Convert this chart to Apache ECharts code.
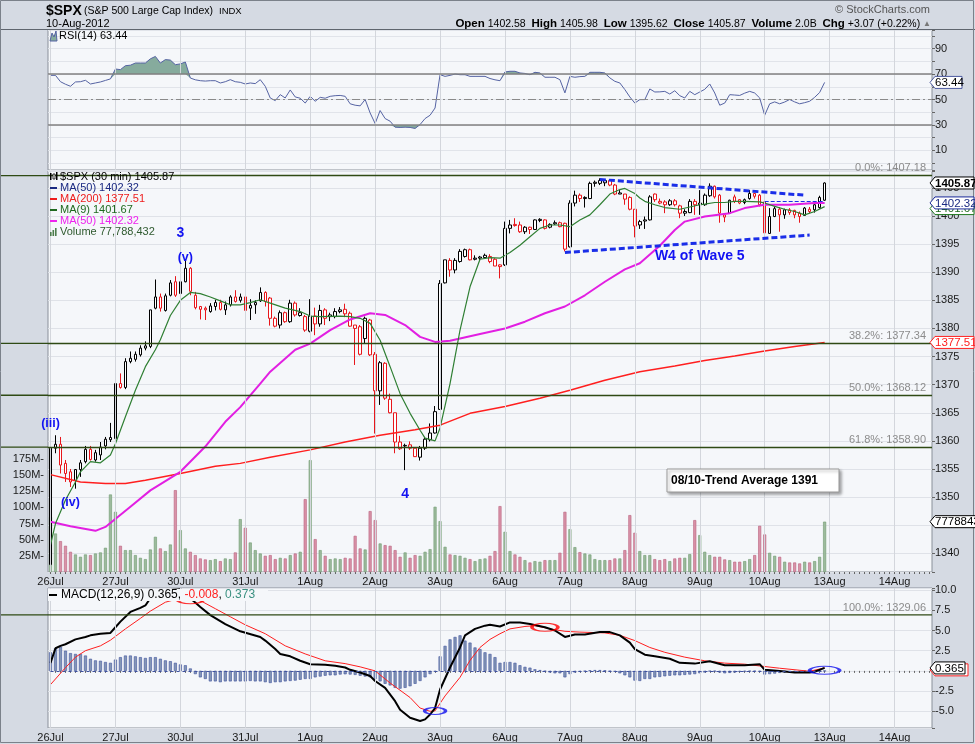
<!DOCTYPE html>
<html><head><meta charset="utf-8">
<script src="https://cdn.jsdelivr.net/npm/echarts@6/dist/echarts.min.js"></script>
<style>html,body{margin:0;padding:0;background:#d5dae3;}#c{width:975px;height:744px;}</style>
</head><body><div id="c"></div>
<script>
// ---------------- DATA ----------------
const days = ['26Jul','27Jul','30Jul','31Jul','1Aug','2Aug','3Aug','6Aug','7Aug','8Aug','9Aug','10Aug','13Aug','14Aug'];
const barTimes = ['10:00','10:30','11:00','11:30','12:00','12:30','13:00','13:30','14:00','14:30','15:00','15:30','16:00'];
const slotCount = 177;

// 30-minute candles: [open, high, low, close]
const candles = [
[1338.0,1359.5,1337.9,1358.7],[1358.7,1361.0,1357.8,1359.4],[1359.4,1360.7,1354.2,1355.7],[1356.0,1356.6,1352.7,1354.2],
[1354.5,1355.0,1351.8,1352.7],[1353.0,1355.0,1351.5,1354.9],[1354.9,1356.6,1353.6,1356.1],[1356.3,1359.1,1356.0,1358.5],
[1358.5,1359.1,1356.5,1356.7],[1356.6,1358.4,1356.3,1357.9],[1357.5,1359.8,1356.6,1358.9],[1359.1,1360.7,1358.5,1360.3],
[1360.2,1363.2,1359.8,1360.6],
[1360.4,1370.5,1360.0,1370.2],[1370.2,1372.0,1369.3,1369.5],[1369.5,1374.7,1369.2,1374.1],[1374.1,1375.9,1373.8,1374.7],
[1374.5,1375.9,1374.1,1375.4],[1375.3,1377.0,1375.0,1376.5],[1376.5,1377.7,1376.1,1376.9],[1376.8,1383.3,1376.5,1383.3],
[1383.6,1388.7,1383.4,1385.6],[1385.6,1386.2,1383.0,1383.6],[1383.2,1386.2,1383.0,1385.8],[1385.9,1388.6,1385.7,1388.1],
[1388.3,1389.3,1385.6,1385.9],
[1386.2,1388.6,1384.8,1388.3],[1388.3,1392.3,1388.2,1390.7],[1390.7,1390.9,1385.9,1386.6],[1385.9,1386.5,1383.4,1383.7],
[1383.9,1384.0,1381.6,1383.4],[1383.6,1383.9,1381.5,1383.3],[1383.0,1384.5,1382.8,1384.0],[1383.9,1385.1,1383.2,1384.6],
[1384.6,1385.1,1383.2,1383.4],[1383.3,1384.8,1382.4,1384.2],[1384.2,1385.9,1383.9,1385.6],[1385.6,1386.8,1384.6,1384.8],
[1385.0,1386.2,1384.6,1385.6],
[1385.6,1387.0,1383.0,1383.2],[1383.6,1385.2,1381.5,1384.1],[1384.2,1385.0,1382.6,1384.6],[1384.9,1387.3,1384.7,1386.4],
[1386.4,1386.6,1383.9,1384.8],[1385.4,1385.6,1380.5,1381.8],[1381.8,1382.1,1380.2,1380.4],[1380.6,1383.2,1380.0,1382.8],
[1382.8,1383.0,1381.0,1381.2],[1381.2,1385.1,1381.0,1384.5],[1384.5,1384.8,1382.1,1382.4],[1382.3,1383.6,1382.1,1382.8],
[1382.1,1382.4,1379.4,1379.7],
[1379.5,1385.2,1379.3,1382.2],[1382.2,1383.7,1378.8,1380.8],[1380.8,1384.2,1380.3,1383.2],[1383.3,1383.6,1380.6,1381.8],
[1382.1,1382.8,1381.3,1382.4],[1382.1,1383.6,1381.8,1383.0],[1383.0,1383.8,1382.7,1383.3],[1383.4,1384.4,1382.0,1382.6],
[1382.7,1383.0,1380.3,1380.4],[1380.6,1380.6,1373.5,1380.0],[1380.3,1380.6,1375.2,1375.4],[1378.2,1382.1,1377.3,1381.8],
[1381.5,1381.7,1375.1,1375.3],
[1375.4,1375.8,1361.3,1368.9],[1368.9,1374.2,1366.4,1373.9],[1373.8,1374.0,1367.3,1367.6],[1367.4,1368.4,1364.9,1365.0],
[1365.0,1365.0,1357.8,1359.8],[1359.8,1360.9,1358.4,1358.6],[1359.2,1359.5,1354.8,1359.1],[1359.3,1359.9,1358.4,1358.7],
[1358.7,1358.9,1357.2,1357.2],[1357.1,1359.1,1356.5,1358.7],[1358.7,1360.7,1358.4,1360.3],[1360.2,1363.1,1359.9,1361.4],
[1361.4,1366.2,1361.3,1365.2],
[1365.6,1388.6,1365.5,1388.0],[1388.1,1392.2,1388.0,1392.2],[1392.1,1392.5,1389.2,1390.4],[1390.4,1392.5,1389.8,1392.1],
[1391.9,1394.1,1391.7,1393.7],[1392.8,1394.2,1392.6,1394.0],[1394.0,1394.2,1392.1,1392.2],[1392.5,1393.0,1392.1,1392.3],
[1392.5,1392.9,1392.1,1392.7],[1392.6,1393.3,1392.4,1393.0],[1392.8,1393.2,1391.6,1391.9],[1392.3,1392.5,1391.1,1391.1],
[1391.3,1391.4,1388.9,1391.0],
[1391.3,1399.0,1391.1,1397.8],[1397.8,1399.3,1396.9,1398.4],[1398.5,1399.6,1398.1,1398.3],[1398.4,1399.0,1397.0,1397.2],
[1397.2,1398.2,1396.8,1398.0],[1398.0,1398.1,1396.8,1397.6],[1397.6,1399.4,1397.5,1399.3],[1399.2,1399.6,1398.9,1399.4],
[1399.3,1399.4,1397.6,1397.8],[1398.0,1398.7,1397.8,1398.5],[1398.8,1399.2,1398.4,1398.6],[1398.8,1399.0,1398.0,1398.1],
[1398.7,1398.8,1393.7,1394.1],
[1394.5,1402.8,1394.4,1402.3],[1402.3,1404.5,1401.7,1403.7],[1403.7,1404.0,1402.5,1403.1],[1403.3,1403.5,1401.5,1403.1],
[1403.1,1406.1,1403.0,1405.8],[1406.0,1406.3,1405.2,1405.8],[1405.8,1406.7,1405.5,1406.3],[1405.9,1406.5,1405.3,1406.3],
[1406.3,1406.5,1405.3,1405.5],[1405.5,1405.7,1403.7,1403.9],[1404.1,1404.6,1403.9,1403.9],[1403.9,1403.9,1402.0,1403.0],
[1403.3,1403.5,1401.0,1401.2],
[1401.2,1401.2,1396.2,1398.2],[1398.4,1399.3,1397.7,1399.0],[1399.1,1399.9,1397.7,1399.3],[1399.3,1403.7,1399.2,1403.4],
[1403.9,1404.0,1402.5,1402.9],[1402.6,1403.1,1402.1,1402.3],[1402.5,1402.8,1400.5,1402.0],[1402.0,1403.0,1401.8,1402.7],
[1402.7,1403.0,1401.7,1402.0],[1401.8,1402.0,1399.6,1400.5],[1400.8,1401.2,1400.0,1400.5],[1400.6,1403.0,1400.5,1402.6],
[1402.6,1403.0,1400.2,1402.0],
[1402.3,1404.6,1400.2,1402.0],[1402.0,1404.0,1401.8,1403.7],[1403.6,1405.8,1403.4,1405.3],[1405.3,1405.4,1403.1,1403.4],
[1403.7,1403.9,1398.8,1400.5],[1399.8,1400.5,1398.9,1400.2],[1400.5,1402.9,1400.4,1402.8],[1403.4,1403.8,1402.3,1402.6],
[1402.9,1403.0,1402.1,1402.3],[1402.4,1403.1,1402.1,1402.9],[1403.1,1404.6,1402.9,1404.0],[1404.0,1404.1,1403.1,1403.5],
[1403.7,1403.9,1401.7,1402.0],
[1402.5,1402.7,1395.7,1397.0],[1396.9,1401.4,1396.8,1399.9],[1399.9,1401.6,1399.8,1401.3],[1401.2,1401.6,1397.2,1400.2],
[1400.2,1401.3,1399.5,1401.1],[1401.1,1401.4,1400.2,1400.6],[1401.0,1401.1,1399.6,1400.2],[1400.5,1400.8,1398.8,1399.9],
[1400.1,1401.6,1400.0,1401.4],[1401.2,1401.6,1400.5,1400.8],[1401.1,1402.1,1400.6,1402.0],[1401.5,1403.6,1401.3,1403.3],
[1402.8,1405.98,1402.7,1405.87]
];

// volume per bar, millions of shares
const volumeM = [
85,59.5,47.7,40.5,31.2,27.1,23.5,27.1,26.1,28.6,30.2,37.4,119.8,
93.0,40.5,33.8,33.8,26.1,21.9,19.9,34.8,54.4,36.4,32.3,42.5,126.5,
64.7,36.4,31.2,26.1,20.9,19.4,18.3,19.9,16.8,20.9,19.9,30.2,81.7,
68.3,45.6,33.8,28.6,25.0,26.1,19.9,21.9,20.9,26.1,28.6,31.2,112.6,
172.9,50.8,33.8,25.0,19.9,20.9,19.9,21.9,20.9,55.9,36.4,34.8,94.1,
80.2,44.1,41.5,40.5,33.8,23.5,30.2,21.9,26.1,25.0,31.2,35.3,100.8,
78.6,38.9,27.1,26.1,25.0,21.9,19.9,16.8,19.9,20.9,25.0,32.3,101.8,
62.1,32.3,27.1,23.5,18.3,14.7,16.8,15.8,18.3,18.3,18.3,29.7,93.0,
66.2,38.4,30.7,28.6,27.1,19.9,18.3,18.3,18.3,20.9,20.9,33.8,87.9,
60.6,32.3,26.1,26.1,19.9,18.3,19.9,16.8,20.9,21.9,21.9,27.6,80.2,
57.0,31.2,26.1,23.5,23.5,19.4,18.3,15.8,15.8,16.8,19.9,26.1,71.4,
58.0,29.7,25.0,23.5,15.8,14.7,14.7,13.2,15.8,14.7,16.8,23.5,77.788432
];

// moving averages read at sample bars: [barIndex, value]
const ma9Pts = [[0,1341.5],[1,1345.3],[3,1349.5],[5,1352.7],[6,1354.5],[8,1356.3],[10,1356.1],[12,1357.5],[13,1359.5],[15,1364.3],[17,1369.0],[19,1373.2],[21,1376.2],[22,1378.0],[24,1382.3],[26,1385.0],[28,1386.4],[30,1386.2],[32,1385.6],[34,1384.9],[36,1384.2],[38,1384.2],[40,1384.6],[42,1385.1],[44,1384.5],[47,1383.6],[50,1383.0],[52,1382.2],[54,1382.1],[58,1382.2],[60,1382.1],[62,1381.8],[64,1380.9],[66,1377.9],[68,1373.2],[70,1368.4],[72,1364.9],[74,1361.9],[75,1360.5],[77,1360.0],[78,1362.3],[80,1370.2],[82,1379.7],[84,1387.4],[86,1392.3],[88,1392.6],[90,1392.5],[92,1393.5],[94,1394.8],[96,1396.3],[98,1397.8],[100,1398.4],[102,1398.4],[104,1398.1],[106,1399.3],[108,1400.2],[110,1402.0],[112,1403.9],[114,1404.7],[115,1404.9],[117,1404.0],[118,1403.2],[119,1402.6],[121,1402.0],[123,1401.5],[126,1401.2],[128,1401.6],[130,1402.0],[131,1402.1],[133,1402.4],[135,1402.4],[137,1402.6],[139,1402.6],[142,1402.5],[143,1402.3],[145,1401.7],[147,1401.2],[149,1400.8],[151,1400.2],[153,1400.8],[155,1401.67]];
const ma50Pts = [[0,1345.6],[4,1344.8],[9,1344.0],[11,1344.7],[16,1348.3],[20,1351.2],[26,1354.5],[31,1359.0],[35,1363.4],[38,1366.0],[42,1370.2],[44,1372.3],[49,1376.2],[52,1377.3],[56,1379.7],[60,1381.6],[64,1382.7],[67,1382.4],[71,1380.6],[74,1378.5],[77,1377.6],[80,1377.8],[82,1378.2],[86,1379.0],[91,1380.0],[95,1381.2],[99,1382.7],[103,1383.9],[107,1385.9],[111,1388.3],[115,1390.5],[118,1391.6],[122,1394.7],[125,1397.5],[127,1399.0],[131,1399.9],[136,1400.5],[139,1401.4],[143,1402.0],[148,1402.0],[153,1402.3],[155,1402.32]];
const ma200Pts = [[0,1354.0],[6,1352.7],[11,1352.4],[15,1352.4],[19,1353.0],[26,1354.2],[33,1355.5],[38,1356.0],[44,1357.1],[52,1358.4],[59,1359.8],[66,1361.0],[73,1362.0],[78,1362.8],[84,1364.9],[91,1366.1],[98,1367.6],[104,1369.0],[111,1370.8],[118,1372.3],[125,1373.3],[131,1374.3],[137,1375.1],[143,1376.0],[149,1376.8],[155,1377.51]];

// RSI(14) per bar
const rsi = [
69,69,64,62,60.4,63.8,64,65.1,62.2,63,63.8,65,66.2,
74.0,73.5,76.6,77,78.7,78.7,78.7,82,83.9,78.7,81.4,81,77.4,
78,79.5,66.9,65.5,64.8,64.5,64.8,64.8,63.0,64,65.6,64,63.5,
62.2,63,62.5,65.6,60.4,51.2,49.1,53.8,51.2,57.5,52,51,47.2,
52.5,48.6,51.7,51,52.5,53,53.2,52.5,46.6,45.5,45,50.0,39.4,
31.1,41.3,35.0,32.9,28.2,28,28.2,28,27.2,30.3,35.0,37.6,43.3,
69.5,68.2,69,70.0,69.5,69.5,68.2,68.2,68.2,68.2,66.5,65.5,64.8,
71.7,72.2,72.2,70.9,70.5,69.5,71.4,70.9,67.5,67.5,67.5,65.6,55.2,
68.2,67.5,68,68.2,71.4,71.4,71.4,70.9,67,64.3,63.0,57.8,52,
47.2,49.9,49.9,58.3,55.9,56,56.4,54.3,56.9,53,51.2,56.4,53.8,
55.9,58,62.2,55.1,45.5,47.2,53.8,53.5,53.2,55,56.4,55.1,51.2,
37.6,46.6,48.1,46.6,48,50.0,48.1,46.6,47.5,48.6,51.7,55.5,63.44
];

// MACD(12,26,9) lines read at sample bars, histogram per bar
const macdPts = [[0,1.0],[1,2.8],[2,3.1],[3,3.3],[5,3.9],[7,4.2],[8,4.4],[10,4.6],[12,4.7],[13,5.4],[14,6.1],[16,7.3],[18,7.8],[19,8.1],[20,9.0],[22,9.6],[24,10.0],[26,10.1],[28,9.0],[30,7.9],[32,6.9],[35,5.8],[38,4.9],[42,4.2],[43,3.75],[45,2.7],[46,2.1],[48,1.8],[50,1.25],[52,0.83],[55,0.75],[57,0.63],[59,0.42],[60,0.13],[62,-0.2],[64,-0.63],[65,-1.25],[67,-2.1],[69,-3.75],[70,-4.8],[72,-5.8],[74,-6.2],[75,-6.0],[76,-5.4],[77,-4.6],[78,-2.3],[80,0.42],[82,2.9],[83,4.4],[85,5.2],[87,5.6],[88,5.7],[90,5.5],[92,6.0],[94,6.0],[96,5.8],[99,5.4],[101,5.0],[103,4.2],[105,4.5],[107,4.5],[110,4.8],[112,4.8],[114,4.4],[116,3.5],[117,2.7],[119,2.0],[121,1.8],[124,1.5],[126,1.0],[129,0.9],[132,1.2],[135,0.7],[139,0.7],[142,0.83],[143,0.13],[146,0.0],[149,-0.2],[152,-0.2],[153,-0.1],[155,0.365]];
const signalPts = [[0,-1.7],[1,-1.0],[3,0.4],[5,1.7],[7,2.5],[10,3.1],[12,3.8],[15,5.2],[18,6.5],[20,7.4],[23,8.5],[26,9.0],[28,9.1],[30,8.7],[33,7.7],[36,6.7],[39,5.7],[43,4.6],[47,3.1],[51,2.1],[55,1.25],[59,0.9],[62,0.5],[65,0.0],[68,-1.5],[72,-3.3],[74,-4.6],[76,-5.0],[77,-4.95],[79,-3.1],[82,-0.8],[84,1.3],[86,2.9],[88,3.9],[90,4.6],[92,5.2],[95,5.5],[97,5.6],[100,5.2],[103,4.9],[106,4.8],[111,4.7],[114,4.4],[117,3.75],[120,2.9],[123,2.3],[127,1.7],[131,1.25],[135,0.96],[139,0.83],[143,0.54],[146,0.33],[150,0.08],[152,-0.05],[155,0.373]];
const macdHist = [
2.3,2.8,3.0,2.5,2.2,2.1,2.1,1.9,1.5,1.3,1.25,1.1,1.0,
1.4,1.7,1.9,1.9,1.8,1.7,1.6,1.7,1.7,1.5,1.3,1.2,1.0,
0.8,0.7,0.3,-0.4,-0.8,-1.0,-1.3,-1.3,-1.4,-1.3,-1.3,-1.3,-1.3,
-1.3,-1.25,-1.3,-1.3,-1.4,-1.5,-1.4,-1.4,-1.3,-1.25,-1.2,-1.1,-1.0,
-1.0,-0.8,-0.7,-0.6,-0.55,-0.55,-0.45,-0.42,-0.45,-0.5,-0.6,-0.7,-0.8,
-1.0,-1.3,-1.6,-1.8,-2.1,-2.2,-2.1,-1.9,-1.6,-1.25,-0.8,-0.4,-0.1,
1.8,3.1,3.9,4.2,4.4,3.75,3.5,2.9,2.7,2.3,2.1,1.7,1.0,
1.1,1.1,1.0,0.7,0.5,0.4,0.2,0.1,-0.05,-0.2,-0.3,-0.3,-0.8,
-0.4,-0.2,-0.1,-0.05,0.05,0.1,0.1,0.05,-0.05,-0.1,-0.3,-0.55,-0.8,
-1.2,-1.25,-1.0,-1.0,-0.8,-0.75,-0.67,-0.6,-0.55,-0.55,-0.5,-0.45,-0.4,
-0.3,-0.2,-0.05,-0.05,-0.2,-0.3,-0.25,-0.2,-0.12,-0.08,-0.05,-0.05,-0.08,
-0.45,-0.4,-0.33,-0.25,-0.2,-0.12,-0.12,-0.08,-0.04,-0.04,0,0.01,-0.008
];

// Fibonacci retracement levels
const fibNames = ['0.0%','38.2%','50.0%','61.8%'];
const fibLevels = [1407.18,1377.34,1368.12,1358.90];
const fib100Name = '100.0%';
const fib100 = 1329.06;

// hand-drawn annotations: [barIndex, price]
const triangleUpper = [[110,1406.5],[151,1403.7]];
const triangleLower = [[103,1393.5],[152,1396.6]];
const shortLine = [[143,1402.7],[155,1402.7]];
const waveText = ['3','(v)','(iii)','(iv)','4','W4 of Wave 5'];
const waveIdx = [26,27,0,4,71,130];
const wavePrice = [1396.9,1392.6,1363.1,1349.0,1350.6,1392.8];
const ellipseIdx = [28,99,77,155];
const ellipseVal = [8.8,5.4,-4.96,0.07];
const ellipseColor = ['#ff0000','#ff0000','#1010ee','#1010ee'];
const trendNote = '08/10-Trend Average 1391';

// legend / header values
const lastClose = 1405.87, lastMA50 = 1402.32, lastMA200 = 1377.51, lastMA9 = 1401.67, lastVol = 77788432;
const lastRSI = 63.44, lastMACD = 0.365, lastHist = -0.008, lastSignal = 0.373;

// ---------------- CHART ----------------
const FONT = '"Liberation Sans", Arial, sans-serif';
const cats = [];
days.forEach(d => barTimes.forEach(t => { if (cats.length < slotCount) cats.push(d + ' ' + t); }));
const dayStarts = [];
for (let i = 0; i < slotCount; i += 13) dayStarts.push(i);
const isMult = (v, s) => Math.abs(v / s - Math.round(v / s)) < 1e-6;

const gridBase = {left: 48, width: 884, show: true, borderColor: '#8a909a', borderWidth: 1, backgroundColor: '#f5f7fa'};
const grids = [
  Object.assign({top: 30, height: 140}, gridBase),
  Object.assign({top: 171, height: 401}, gridBase),
  Object.assign({top: 588, height: 140}, gridBase)
];
const xAxes = [0, 1, 2].map(k => ({
  type: 'category', gridIndex: k, data: cats, boundaryGap: true,
  axisLine: {show: false},
  axisTick: {show: k !== 0, interval: 0, alignWithLabel: true, length: 2, lineStyle: {color: '#666'}},
  axisLabel: {show: k !== 0, interval: i => i % 13 === 0, formatter: v => v.split(' ')[0],
    fontFamily: FONT, fontSize: 11, color: '#1a1a1a', margin: 4},
  splitLine: {show: false}
}));
const rightLabel = {fontFamily: FONT, fontSize: 11, color: '#1a1a1a', margin: 3};
const yAxes = [
  {type: 'value', gridIndex: 0, position: 'right', min: -5.5, max: 104.7, minInterval: 10, maxInterval: 10,
   axisLine: {show: false}, axisTick: {show: true, length: 3, lineStyle: {color: '#666'}},
   axisLabel: Object.assign({formatter: v => ([10,30,50,70,90].some(t => Math.abs(v - t) < 1e-6)) ? String(Math.round(v)) : ''}, rightLabel),
   splitLine: {lineStyle: {color: '#e1e4ea'}}},
  {type: 'value', gridIndex: 1, position: 'right', min: 1336.68, max: 1408.0, minInterval: 5, maxInterval: 5,
   axisLine: {show: false}, axisTick: {show: true, length: 3, lineStyle: {color: '#666'}},
   axisLabel: Object.assign({formatter: v => (isMult(v, 5) && v >= 1340 && v <= 1405) ? String(Math.round(v)) : ''}, rightLabel),
   splitLine: {lineStyle: {color: '#dfe2e8'}}},
  {type: 'value', gridIndex: 1, position: 'left', min: 0, max: 619.8, minInterval: 25, maxInterval: 25,
   axisLine: {show: false}, axisTick: {show: false},
   axisLabel: {fontFamily: FONT, fontSize: 11, color: '#1a1a1a', margin: 4,
     formatter: v => (isMult(v, 25) && v > 0 && v <= 175) ? Math.round(v) + 'M-' : ''},
   splitLine: {show: false}},
  {type: 'value', gridIndex: 2, position: 'right', min: -7.07, max: 10.26, minInterval: 2.5, maxInterval: 2.5,
   axisLine: {show: false}, axisTick: {show: true, length: 3, lineStyle: {color: '#666'}},
   axisLabel: Object.assign({formatter: v => isMult(v, 2.5) ? v.toFixed(1) : ''}, rightLabel),
   splitLine: {lineStyle: {color: '#dfe2e8'}}}
];

const dayLines = yIdx => ({
  type: 'line', xAxisIndex: yIdx === 0 ? 0 : (yIdx === 3 ? 2 : 1), yAxisIndex: yIdx, data: [], z: 1, silent: true,
  markLine: {silent: true, symbol: ['none', 'none'], animation: false, label: {show: false},
    lineStyle: {color: '#d3d6dc', width: 1, type: 'solid'}, data: dayStarts.map(i => ({xAxis: i}))}
});

// candle colours follow StockCharts: red when close < previous close, hollow when close > open
const candleData = candles.map((c, i) => {
  const prev = i > 0 ? candles[i - 1][3] : c[0];
  const stroke = c[3] < prev ? '#e8161b' : '#000000';
  return {value: [c[0], c[3], c[2], c[1]],
    itemStyle: {color: '#ffffff', color0: stroke, borderColor: stroke, borderColor0: stroke, borderWidth: 1}};
});
const volData = volumeM.map((v, i) => {
  const prev = i > 0 ? candles[i - 1][3] : candles[i][0];
  const up = candles[i][3] >= prev;
  return {value: v, itemStyle: {color: up ? '#9dba9d' : '#d993a8', borderColor: up ? '#6f9a6f' : '#b8607c', borderWidth: 0.6}};
});

const hiBase = rsi.map(v => Math.min(v, 70)), hiTop = rsi.map(v => Math.max(v - 70, 0));
const loBase = rsi.map(v => Math.min(v, 30)), loTop = rsi.map(v => 30 - Math.min(v, 30));
const hidden = {lineStyle: {width: 0, opacity: 0}, showSymbol: false, symbol: 'none', silent: true};

const series = [
  dayLines(0), dayLines(1), dayLines(3),
  // RSI shading and line
  Object.assign({type: 'line', xAxisIndex: 0, yAxisIndex: 0, stack: 'hi', data: hiBase, z: 2}, hidden),
  Object.assign({type: 'line', xAxisIndex: 0, yAxisIndex: 0, stack: 'hi', data: hiTop, z: 2, areaStyle: {color: '#86ab9d', opacity: 1}}, hidden),
  Object.assign({type: 'line', xAxisIndex: 0, yAxisIndex: 0, stack: 'lo', data: loBase, z: 2}, hidden),
  Object.assign({type: 'line', xAxisIndex: 0, yAxisIndex: 0, stack: 'lo', data: loTop, z: 2, areaStyle: {color: '#86ab9d', opacity: 1}}, hidden),
  {type: 'line', xAxisIndex: 0, yAxisIndex: 0, data: rsi, showSymbol: false, symbol: 'none', z: 4,
   lineStyle: {color: '#5563a3', width: 1},
   markLine: {silent: true, symbol: ['none', 'none'], label: {show: false}, animation: false,
     data: [
       {yAxis: 70, lineStyle: {color: '#808080', width: 1.5, type: 'solid'}},
       {yAxis: 30, lineStyle: {color: '#808080', width: 1.5, type: 'solid'}},
       {yAxis: 50, lineStyle: {color: '#8a8a8a', width: 1, type: [8, 3, 2, 3]}}
     ]}},
  // volume
  {type: 'bar', xAxisIndex: 1, yAxisIndex: 2, data: volData, barWidth: 3, z: 2, silent: true},
  // fib lines
  {type: 'line', xAxisIndex: 1, yAxisIndex: 1, data: [], z: 2,
   markLine: {silent: true, symbol: ['none', 'none'], animation: false,
     lineStyle: {color: '#2f4a14', width: 1.3, type: 'solid'},
     label: {position: 'insideEndTop', color: '#8c8c8c', fontFamily: FONT, fontSize: 11, distance: [6, 2]},
     data: fibLevels.map((v, k) => ({yAxis: v, label: {formatter: fibNames[k] + ': ' + v.toFixed(2)}}))}},
  // candles
  {type: 'candlestick', xAxisIndex: 1, yAxisIndex: 1, data: candleData, barWidth: 3, z: 3},
  // moving averages
  {type: 'line', xAxisIndex: 1, yAxisIndex: 1, data: ma200Pts, showSymbol: false, symbol: 'none', z: 4, lineStyle: {color: '#ff1f1f', width: 1.5}},
  {type: 'line', xAxisIndex: 1, yAxisIndex: 1, data: ma50Pts, showSymbol: false, symbol: 'none', z: 4, lineStyle: {color: '#e21fe2', width: 2}},
  {type: 'line', xAxisIndex: 1, yAxisIndex: 1, data: ma9Pts, showSymbol: false, symbol: 'none', z: 4, lineStyle: {color: '#2f7f33', width: 1.2}},
  // trend lines
  {type: 'line', xAxisIndex: 1, yAxisIndex: 1, data: [], z: 5,
   markLine: {silent: true, symbol: ['none', 'none'], animation: false, label: {show: false},
     data: [
       [{coord: triangleUpper[0]}, {coord: triangleUpper[1]}],
       [{coord: triangleLower[0]}, {coord: triangleLower[1]}]
     ].map(p => { p[0].lineStyle = {color: '#1a2ee8', width: 3, type: [6, 3]}; return p; })
      .concat([[{coord: shortLine[0], lineStyle: {color: '#1a2ee8', width: 1, type: [4, 2]}}, {coord: shortLine[1]}]])}},
  // MACD
  {type: 'bar', xAxisIndex: 2, yAxisIndex: 3, data: macdHist, barWidth: 3, z: 2, silent: true,
   itemStyle: {color: '#8497b5', borderColor: '#3f52a0', borderWidth: 0.6},
   markLine: {silent: true, symbol: ['none', 'none'], label: {show: false}, animation: false,
     lineStyle: {color: '#3f52a0', width: 1, type: [3, 3]},
     data: [[{coord: [0, 0]}, {coord: [155, 0]}]]}},
  {type: 'line', xAxisIndex: 2, yAxisIndex: 3, data: signalPts, showSymbol: false, symbol: 'none', z: 3, lineStyle: {color: '#ff1f1f', width: 1}},
  {type: 'line', xAxisIndex: 2, yAxisIndex: 3, data: macdPts, showSymbol: false, symbol: 'none', z: 4, lineStyle: {color: '#000000', width: 2}},
  {type: 'scatter', xAxisIndex: 2, yAxisIndex: 3, z: 6, silent: true,
   data: ellipseIdx.map((i, k) => ({value: [i, ellipseVal[k]], symbolSize: k === 2 ? [21, 7] : (k === 3 ? [30, 8] : [26, 8]),
     itemStyle: {color: 'transparent', borderColor: ellipseColor[k], borderWidth: 2}}))}
];

const chart = echarts.init(document.getElementById('c'), null, {renderer: 'canvas'});
chart.setOption({
  animation: false,
  backgroundColor: '#d5dae3',
  grid: grids, xAxis: xAxes, yAxis: yAxes, series: series
});

// ---------------- overlay texts & tags ----------------
const py = v => chart.convertToPixel({yAxisIndex: 1}, v);
const G = [];
const txt = (x, y, text, fill, font, align, extra) => G.push(Object.assign({type: 'text', x: x, y: y, z: 60,
  style: Object.assign({text: text, fill: fill, font: font, textAlign: align || 'left', align: align || 'left',
    textVerticalAlign: 'middle', verticalAlign: 'middle'}, extra || {})}));
const f = (s, b) => (b ? 'bold ' : '') + s + 'px ' + FONT;

// wave labels, positioned through the chart's own scales
waveText.forEach((t, k) => {
  const p = chart.convertToPixel({xAxisIndex: 1, yAxisIndex: 1}, [waveIdx[k], wavePrice[k]]);
  txt(p[0], p[1], t, '#1212f2', f(k === 5 ? 14 : (t.length === 1 ? 14 : 12.5), true), 'center');
});

// frame & header
G.push({type: 'line', z: 60, shape: {x1: 0, y1: 29.5, x2: 975, y2: 29.5}, style: {stroke: '#5f656e', lineWidth: 1}});
G.push({type: 'rect', z: 60, shape: {x: 0.5, y: 0.5, width: 973, height: 742}, style: {fill: 'none', stroke: '#7b818a', lineWidth: 1}});
txt(46, 11, '$SPX', '#000', f(14, true));
txt(84, 11.5, '(S&P 500 Large Cap Index)', '#000', f(10.5));
txt(219, 11.5, 'INDX', '#000', f(9.5));
txt(46, 24, '10-Aug-2012', '#000', f(11));
txt(930, 10, '\u00A9 StockCharts.com', '#555', f(11), 'right');
G.push({type: 'text', x: 931, y: 24, z: 60, style: {
  text: '{b|Open} 1402.58  {b|High} 1405.98  {b|Low} 1395.62  {b|Close} 1405.87  {b|Volume} 2.0B  {b|Chg} +3.07 (+0.22%) {g|\u25B2}',
  fill: '#000', font: f(10.5), textAlign: 'right', align: 'right', textVerticalAlign: 'middle', verticalAlign: 'middle',
  rich: {b: {font: f(11.5, true), fill: '#000'}, g: {font: f(8), fill: '#777'}}}});

// RSI legend
G.push({type: 'polygon', z: 60, shape: {points: [[50, 41], [52, 33], [54, 37], [56, 31], [57, 41]]}, style: {fill: '#86ab9d', stroke: '#5563a3', lineWidth: 1}});
txt(59, 36, 'RSI(14) ' + lastRSI.toFixed(2), '#000', f(11));

// price legend
G.push({type: 'rect', z: 60, shape: {x: 50, y: 173, width: 1.5, height: 7}, style: {fill: '#000'}});
G.push({type: 'rect', z: 60, shape: {x: 53, y: 174, width: 2, height: 5}, style: {fill: '#fff', stroke: '#000', lineWidth: 0.8}});
G.push({type: 'rect', z: 60, shape: {x: 56, y: 172, width: 1.5, height: 8}, style: {fill: '#000'}});
txt(60, 177, '$SPX (30 min) ' + lastClose.toFixed(2), '#000', f(11));
const legendRows = [
  ['MA(50) ' + lastMA50.toFixed(2), '#1b2a82'],
  ['MA(200) ' + lastMA200.toFixed(2), '#ee1c1c'],
  ['MA(9) ' + lastMA9.toFixed(2), '#1f6a1f'],
  ['MA(50) ' + lastMA50.toFixed(2), '#ee22ee']
];
legendRows.forEach((r, k) => {
  const y = 188 + k * 11;
  G.push({type: 'rect', z: 60, shape: {x: 50, y: y - 1, width: 7, height: 2}, style: {fill: r[1]}});
  txt(60, y, r[0], r[1], f(11));
});
[[50, 4], [52.5, 6], [55, 8]].forEach(b => G.push({type: 'rect', z: 60, shape: {x: b[0], y: 236 - b[1], width: 1.6, height: b[1]}, style: {fill: '#4d7d4d'}}));
txt(60, 232, 'Volume ' + lastVol.toLocaleString('en-US'), '#2f5a2f', f(11));

// MACD legend (panel-coloured backing, the MACD line passes behind it)
G.push({type: 'rect', z: 59, shape: {x: 48, y: 589, width: 220, height: 12}, style: {fill: '#f5f7fa'}});
G.push({type: 'rect', z: 60, shape: {x: 49, y: 594, width: 8, height: 2}, style: {fill: '#000'}});
G.push({type: 'text', x: 61, y: 595, z: 60, style: {
  text: 'MACD(12,26,9) {k|' + lastMACD.toFixed(3) + '}, {r|' + lastHist.toFixed(3) + '}, {t|' + lastSignal.toFixed(3) + '}',
  fill: '#000', font: f(12), textVerticalAlign: 'middle', verticalAlign: 'middle',
  rich: {k: {font: f(12), fill: '#000'}, r: {font: f(12), fill: '#ff2020'}, t: {font: f(12), fill: '#3a9080'}}}});

// fib lines extending into the left margin + the 100% line (lies below the price panel)
fibLevels.forEach(v => G.push({type: 'line', z: 55, shape: {x1: 0, y1: py(v), x2: 48, y2: py(v)}, style: {stroke: '#2f4a14', lineWidth: 1.3}}));
const y100 = py(fib100);
G.push({type: 'line', z: 55, shape: {x1: 0, y1: y100, x2: 932, y2: y100}, style: {stroke: '#2f4a14', lineWidth: 1.3}});
txt(926, y100 - 7, fib100Name + ': ' + fib100.toFixed(2), '#8c8c8c', f(11), 'right');

// trend-average note
G.push({type: 'rect', z: 58, shape: {x: 667, y: 469, width: 172, height: 23},
  style: {fill: '#ffffff', stroke: '#9a9a9a', lineWidth: 1, shadowBlur: 3, shadowOffsetX: 2, shadowOffsetY: 2, shadowColor: 'rgba(0,0,0,0.35)'}});
txt(671, 481, trendNote, '#000', f(12, true));

// right-axis value tags
const tag = (y, text, stroke, color, bold, w) => {
  const x0 = 930, h = 12;
  G.push({type: 'polygon', z: 62, shape: {points: [[x0, y], [x0 + 5, y - h / 2], [x0 + w, y - h / 2], [x0 + w, y + h / 2], [x0 + 5, y + h / 2]]},
    style: {fill: '#ffffff', stroke: stroke, lineWidth: 1}});
  G.push({type: 'text', x: x0 + 5, y: y + 0.5, z: 62, style: {text: text, fill: color, font: f(11.5, bold),
    textVerticalAlign: 'middle', verticalAlign: 'middle'}});
};
tag(chart.convertToPixel({yAxisIndex: 0}, lastRSI), lastRSI.toFixed(2), '#4d5ba0', '#000', false, 32);
tag(py(lastMA9) + 2, lastMA9.toFixed(2), '#1f7a1f', '#1f6a1f', false, 44);
tag(py(lastMA50), lastMA50.toFixed(2), '#1b2a9b', '#1b2a82', false, 44);
tag(py(lastClose), lastClose.toFixed(2), '#000', '#000', true, 44);
tag(py(lastMA200), lastMA200.toFixed(2), '#ff2020', '#ff2020', false, 44);
tag(chart.convertToPixel({yAxisIndex: 2}, lastVol / 1e6), String(lastVol), '#000', '#000', false, 50);
const ym = chart.convertToPixel({yAxisIndex: 3}, lastSignal);
tag(ym + 2, lastSignal.toFixed(3), '#ff2020', '#ff2020', false, 38);
tag(chart.convertToPixel({yAxisIndex: 3}, lastMACD), lastMACD.toFixed(3), '#000', '#000', false, 35);

chart.setOption({graphic: {elements: G}});
</script></body></html>
